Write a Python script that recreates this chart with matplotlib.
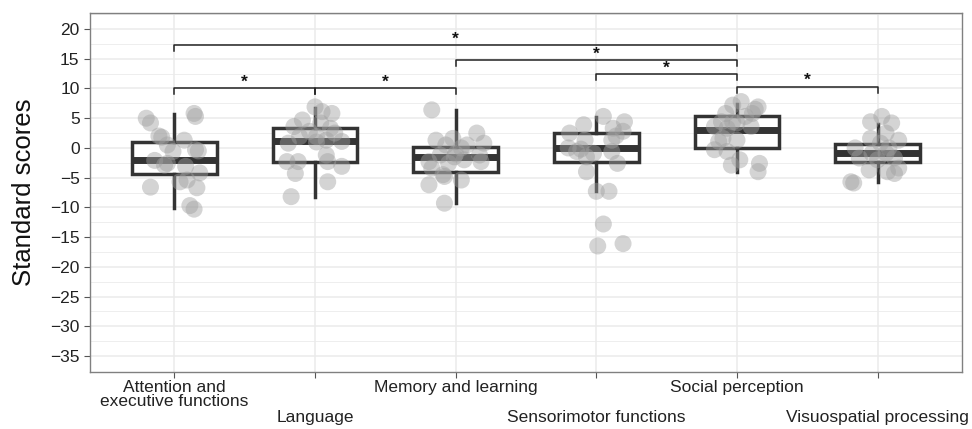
import numpy as np
import matplotlib.pyplot as plt

plt.rcParams['font.family'] = ['Liberation Sans', 'DejaVu Sans']

# 类别与坐标轴
categories = ['Attention and\nexecutive functions', 'Language', 'Memory and learning',
              'Sensorimotor functions', 'Social perception', 'Visuospatial processing']
y_ticks = [20, 15, 10, 5, 0, -5, -10, -15, -20, -25, -30, -35]

# 箱线图统计量
q1 = [-4.4, -2.3, -4.0, -2.4, -0.05, -2.3]
med = [-2.1, 1.2, -1.5, 0.05, 3.0, -0.9]
q3 = [1.05, 3.3, 0.2, 2.5, 5.3, 0.7]
whis_lo = [-10.1, -8.2, -9.2, -7.3, -4.0, -5.7]
whis_hi = [5.7, 6.7, 6.3, 5.2, 7.4, 4.0]

# 散点：(抖动偏移, 分数)
pts_attention = [(-0.20, 5.0), (-0.17, 4.2), (0.14, 5.8), (0.15, 5.3), (-0.11, 2.0), (-0.09, 1.8),
                 (0.07, 1.3), (-0.05, 0.5), (0.15, -0.3), (0.17, -0.5), (-0.01, -0.6), (-0.14, -2.1),
                 (-0.07, -2.9), (-0.05, -2.6), (0.08, -3.1), (0.18, -4.2), (0.04, -5.7), (0.09, -5.4),
                 (-0.17, -6.6), (0.16, -6.7), (0.11, -9.7), (0.14, -10.3)]
pts_language = [(0.0, 6.9), (0.05, 6.1), (0.12, 5.8), (-0.09, 4.7), (-0.15, 3.6), (0.04, 4.2),
                (0.11, 3.3), (0.14, 2.5), (-0.04, 2.8), (-0.11, 1.9), (0.01, 1.9), (-0.19, 0.8),
                (0.08, 1.3), (0.19, 1.1), (0.01, 1.0), (0.08, -1.2), (-0.2, -2.3), (-0.12, -2.3),
                (0.09, -2.3), (0.19, -3.1), (-0.14, -4.3), (0.09, -5.7), (-0.17, -8.2)]
pts_memory = [(-0.17, 6.4), (0.15, 2.5), (-0.14, 1.3), (-0.02, 1.6), (0.2, 0.8), (-0.07, 0.5),
              (0.08, 0.5), (0.04, 0.0), (0.17, -1.2), (-0.01, -1.5), (-0.11, -1.2), (-0.19, -2.3),
              (-0.17, -3.4), (0.18, -2.3), (0.06, -2.0), (-0.09, -4.5), (0.04, -5.4), (-0.08, -4.8),
              (-0.19, -6.2), (-0.08, -9.3), (0.0, -1.0), (-0.05, -2.6)]
pts_sensori = [(0.05, 5.3), (0.2, 4.4), (-0.09, 3.9), (0.12, 3.3), (0.19, 2.8), (-0.19, 2.5),
               (-0.08, 1.3), (0.11, 1.3), (-0.2, 0.0), (-0.14, -0.6), (-0.02, -0.9), (0.11, -0.6),
               (-0.07, -1.5), (0.15, -2.6), (-0.07, -4.0), (0.0, -7.3), (0.09, -7.3), (0.05, -12.8),
               (0.01, -16.5), (0.19, -16.1), (-0.11, -0.2), (0.14, 2.0)]
pts_social = [(-0.03, 7.2), (0.03, 7.8), (0.15, 6.9), (0.11, 5.8), (-0.08, 5.8), (0.06, 5.3),
              (-0.03, 4.4), (-0.11, 4.4), (0.0, 4.2), (-0.16, 3.6), (0.1, 3.6), (-0.07, 3.3),
              (-0.1, 1.6), (0.0, 1.3), (-0.13, 1.1), (-0.16, -0.3), (-0.07, -0.6), (0.02, -2.0),
              (-0.04, -2.9), (0.16, -2.6), (0.15, -4.0), (0.13, 6.5)]
pts_visuo = [(-0.05, 4.4), (0.03, 5.3), (0.1, 4.2), (-0.05, 1.6), (0.06, 2.5), (0.15, 1.3),
             (-0.16, 0.0), (0.02, 0.8), (0.08, 0.0), (-0.04, -0.9), (0.06, -0.9), (-0.13, -1.7),
             (0.0, -2.0), (0.12, -1.7), (-0.06, -3.7), (0.07, -4.0), (0.15, -3.4), (0.12, -4.3),
             (-0.19, -5.7), (-0.17, -5.9)]
points = [pts_attention, pts_language, pts_memory, pts_sensori, pts_social, pts_visuo]

# 显著性标注：(组1, 组2, 高度)
brackets = [(1, 2, 10.0), (2, 3, 10.0), (5, 6, 10.3), (4, 5, 12.4), (3, 5, 14.8), (1, 5, 17.3)]

fig = plt.figure(figsize=(9.72, 4.29), dpi=100)
ax = fig.add_axes([90 / 972, 57 / 429, 872 / 972, 359 / 429])

pos = np.arange(1, len(categories) + 1)
stats = [dict(med=med[i], q1=q1[i], q3=q3[i], whislo=whis_lo[i], whishi=whis_hi[i], fliers=[])
         for i in range(len(categories))]
ax.bxp(stats, positions=pos, widths=0.6, showcaps=False, patch_artist=True,
       boxprops=dict(facecolor='white', edgecolor='#333333', linewidth=2.5),
       whiskerprops=dict(color='#333333', linewidth=2.5),
       medianprops=dict(color='#333333', linewidth=5, solid_capstyle='butt'),
       zorder=2)

for i, pts in enumerate(points):
    arr = np.array(pts)
    ax.scatter(pos[i] + arr[:, 0], arr[:, 1], s=150, color='#a0a0a0', alpha=0.45,
               edgecolors='none', zorder=3)

for a, b, h in brackets:
    ax.plot([a, a, b, b], [h - 1.0, h, h, h - 1.0], color='#222222', lw=1.1, zorder=4)
    ax.text((a + b) / 2, h + 1.0, '*', ha='center', va='center', fontsize=12.5,
            fontweight='bold', color='#111111', zorder=4)

ax.set_xlim(0.4, 6.6)
ax.set_ylim(-37.7, 22.7)
ax.set_yticks(y_ticks)
ax.set_yticks(np.arange(-35, 22.6, 2.5), minor=True)
ax.set_xticks(pos)
ax.set_xticklabels([''] * len(categories))
ax.tick_params(axis='both', which='major', length=4, color='#555555', width=0.8,
               labelsize=12.5, labelcolor='#222222')
ax.tick_params(axis='y', which='minor', length=0)
ax.grid(True, which='major', color='#ebebeb', lw=1.1, zorder=0)
ax.grid(True, which='minor', axis='y', color='#ebebeb', lw=0.6, zorder=0)
ax.set_axisbelow(True)
for sp in ax.spines.values():
    sp.set_color('#808080')
    sp.set_linewidth(1.0)

# 交错排布的x轴标签
trans = ax.get_xaxis_transform()
for i, lab in enumerate(categories):
    yy = -0.022 if i % 2 == 0 else -0.107
    ax.text(pos[i], yy, lab, transform=trans, ha='center', va='top', fontsize=12.5,
            color='#222222', linespacing=0.95)

ax.set_ylabel('Standard scores', fontsize=18.5, color='#111111', labelpad=10)

plt.savefig('out.png', dpi=100)
